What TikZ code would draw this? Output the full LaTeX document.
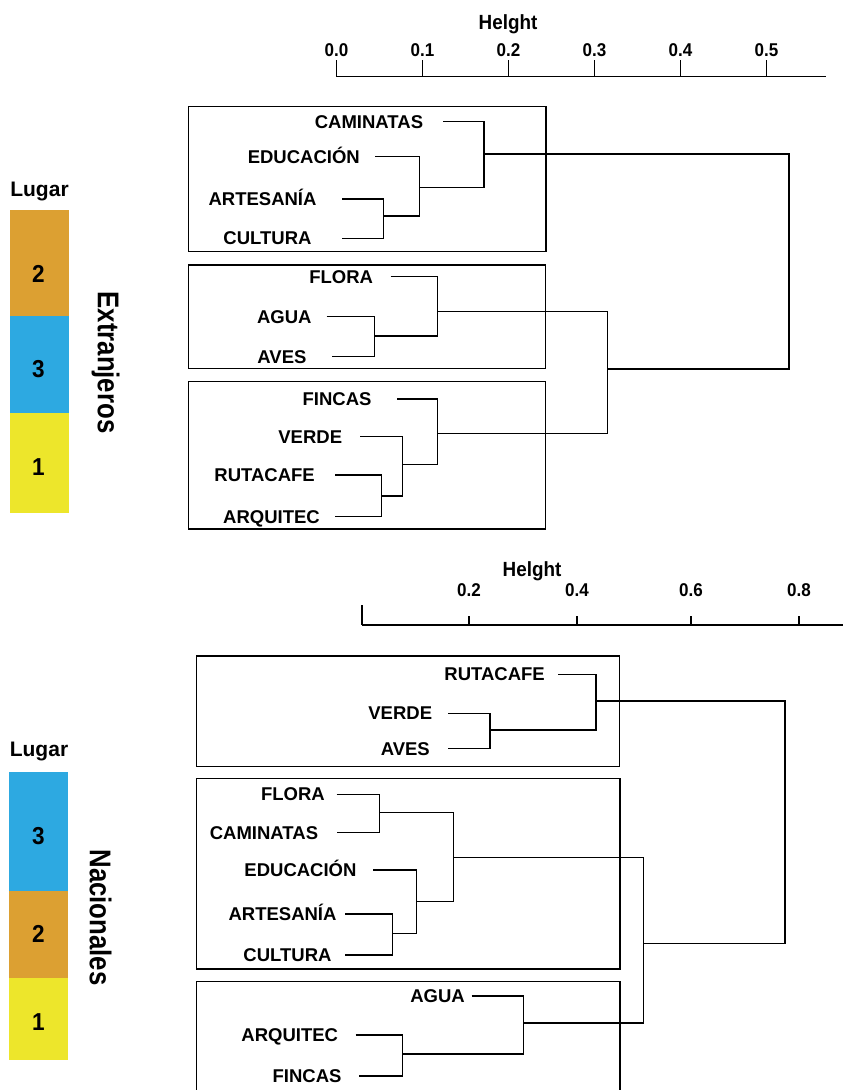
\documentclass[tikz,border=0pt]{standalone}
\usepackage{fontspec}
\setmainfont{Liberation Sans}
\newfontfamily\narrowsans[FakeStretch=0.92]{Liberation Sans}
\newfontfamily\condsans[FakeStretch=0.86]{Liberation Sans}
\definecolor{lugarorange}{RGB}{220,160,50}
\definecolor{lugarblue}{RGB}{45,169,225}
\definecolor{lugaryellow}{RGB}{237,230,43}

\begin{document}
\begin{tikzpicture}[x=1pt, y=-1pt,
    leaf/.style={anchor=east, inner sep=0pt, text height=13.2pt, text depth=0pt,
        font=\bfseries\fontsize{18.5}{18.5}\selectfont},
    ticklab/.style={inner sep=0pt, text height=13.2pt, text depth=0pt,
        font=\narrowsans\bfseries\fontsize{18.5}{18.5}\selectfont},
    axistitle/.style={inner sep=0pt, text height=14.7pt, text depth=0pt,
        font=\narrowsans\bfseries\fontsize{20.5}{20.5}\selectfont},
    lugar/.style={inner sep=0pt, text height=15pt, text depth=0pt,
        font=\bfseries\fontsize{21}{21}\selectfont},
    rank/.style={inner sep=0pt, text height=17.5pt, text depth=0pt,
        font=\narrowsans\bfseries\fontsize{24.5}{24.5}\selectfont},
    side/.style={inner sep=0pt, text height=21.5pt, text depth=0pt, rotate=-90,
        font=\condsans\bfseries\fontsize{30}{30}\selectfont},
    groupbox/.style={draw, line width=1.4pt},
    link/.style={line width=1.1pt},
    axis/.style={line width=1.2pt}
]
    \useasboundingbox (0,0) rectangle (843,1090);
    \fill[white] (0,0) rectangle (843,1090);
    \clip (0,0) rectangle (843,1090);

    % ---------- Extranjeros ----------
    \node[axistitle] (h1) at (508,22) {Helght};
    \draw[axis] (336.5,76.5) -- (826,76.5);
    \foreach \lab [count=\i from 0] in {0.0,0.1,0.2,0.3,0.4,0.5} {
        \draw[axis] ({336.5+86*\i},60) -- ({336.5+86*\i},76.5);
        \node[ticklab] (ta\i) at ({336.5+86*\i},49.5) {\lab};
    }

    \draw[groupbox] (188.3,106.7) rectangle (546,251.7);
    \draw[groupbox] (188.3,265) rectangle (545.7,368.3);
    \draw[groupbox] (188.3,381.7) rectangle (545.7,529);

    \node[leaf] (cam) at (423.3,121.7) {CAMINATAS};
    \node[leaf] (edu) at (360,156.7) {EDUCACIÓN};
    \node[leaf] (art) at (316.7,199) {ARTESANÍA};
    \node[leaf] (cul) at (311.7,238.3) {CULTURA};
    \node[leaf] (flora) at (373.3,276.7) {FLORA};
    \node[leaf] (agua) at (311.7,316.7) {AGUA};
    \node[leaf] (aves) at (306.7,356.7) {AVES};
    \node[leaf] (fincas) at (371.7,399) {FINCAS};
    \node[leaf] (verde) at (342.3,436.7) {VERDE};
    \node[leaf] (ruta) at (315,475) {RUTACAFE};
    \node[leaf] (arq) at (320,516.7) {ARQUITEC};

    \coordinate (jA) at (383.3,216);
    \coordinate (jB) at (419.3,187.7);
    \coordinate (jC) at (484,154);
    \coordinate (jD) at (374.3,336);
    \coordinate (jE) at (437.7,311.7);
    \coordinate (jF) at (381.7,496);
    \coordinate (jG) at (402.7,464.3);
    \coordinate (jH) at (437.7,433.3);
    \coordinate (jI) at (607.7,369);
    \coordinate (jJ) at (789,260);

    \draw[link] ([xshift=25.3pt]art.east) -| (jA) |- ([xshift=30.3pt]cul.east);
    \draw[link] ([xshift=15pt]edu.east) -| (jB) |- (jA);
    \draw[link] ([xshift=19.7pt]cam.east) -| (jC) |- (jB);
    \draw[link] ([xshift=15pt]agua.east) -| (jD) |- ([xshift=25pt]aves.east);
    \draw[link] ([xshift=17.4pt]flora.east) -| (jE) |- (jD);
    \draw[link] ([xshift=20pt]ruta.east) -| (jF) |- ([xshift=15pt]arq.east);
    \draw[link] ([xshift=17.7pt]verde.east) -| (jG) |- (jF);
    \draw[link] ([xshift=25.6pt]fincas.east) -| (jH) |- (jG);
    \draw[link] (jE) -| (jI) |- (jH);
    \draw[link] (jC) -| (jJ) |- (jI);

    \node[lugar] (lug1) at (39.5,189) {Lugar};
    \fill[lugarorange] (9.5,210) rectangle (68.5,315.7);
    \fill[lugarblue] (9.5,315.7) rectangle (68.5,412.7);
    \fill[lugaryellow] (9.5,412.7) rectangle (68.5,513.3);
    \node[rank] (r12) at (38.5,274) {2};
    \node[rank] (r13) at (38.5,369) {3};
    \node[rank] (r11) at (38.5,467) {1};
    \node[side] (ext) at (108.5,362.5) {Extranjeros};

    % ---------- Nacionales ----------
    \node[axistitle] (h2) at (532,569) {Helght};
    \draw[axis] (362,625) -- (843,625);
    \draw[axis] (362,605) -- (362,625);
    \foreach \x/\lab in {469/0.2,577/0.4,691/0.6,799/0.8} {
        \draw[axis] (\x,616) -- (\x,625);
        \node[ticklab] (tb\x) at (\x,590) {\lab};
    }

    \draw[groupbox] (196.7,656) rectangle (619.7,766.7);
    \draw[groupbox] (196.7,778.3) rectangle (620,969);
    \draw[groupbox] (196.7,981.7) rectangle (620,1100);

    \node[leaf] (nruta) at (545,674.3) {RUTACAFE};
    \node[leaf] (nverde) at (432.3,713.3) {VERDE};
    \node[leaf] (naves) at (430,748.7) {AVES};
    \node[leaf] (nflora) at (325,794.3) {FLORA};
    \node[leaf] (ncam) at (318.3,832.7) {CAMINATAS};
    \node[leaf] (nedu) at (356.7,870) {EDUCACIÓN};
    \node[leaf] (nart) at (336.7,914) {ARTESANÍA};
    \node[leaf] (ncul) at (331.7,955) {CULTURA};
    \node[leaf] (nagua) at (465,996) {AGUA};
    \node[leaf] (narq) at (338.3,1035) {ARQUITEC};
    \node[leaf] (nfin) at (341.7,1076) {FINCAS};

    \coordinate (kA) at (490,730);
    \coordinate (kB) at (596,701);
    \coordinate (kC) at (379.3,812.7);
    \coordinate (kD) at (392.3,933.3);
    \coordinate (kE) at (416.7,901.7);
    \coordinate (kF) at (453.3,857.7);
    \coordinate (kG) at (402.3,1054);
    \coordinate (kH) at (523.3,1023);
    \coordinate (kI) at (643.3,943.3);
    \coordinate (kJ) at (785,820);

    \draw[link] ([xshift=16pt]nverde.east) -| (kA) |- ([xshift=18.3pt]naves.east);
    \draw[link] ([xshift=13.3pt]nruta.east) -| (kB) |- (kA);
    \draw[link] ([xshift=11.7pt]nflora.east) -| (kC) |- ([xshift=18.4pt]ncam.east);
    \draw[link] ([xshift=8.3pt]nart.east) -| (kD) |- ([xshift=13.3pt]ncul.east);
    \draw[link] ([xshift=16.6pt]nedu.east) -| (kE) |- (kD);
    \draw[link] (kC) -| (kF) |- (kE);
    \draw[link] ([xshift=17.4pt]narq.east) -| (kG) |- ([xshift=17.3pt]nfin.east);
    \draw[link] ([xshift=6.7pt]nagua.east) -| (kH) |- (kG);
    \draw[link] (kF) -| (kI) |- (kH);
    \draw[link] (kB) -| (kJ) |- (kI);

    \node[lugar] (lug2) at (39,749) {Lugar};
    \fill[lugarblue] (9,771.7) rectangle (68,891);
    \fill[lugarorange] (9,891) rectangle (68,978.3);
    \fill[lugaryellow] (9,978.3) rectangle (68,1060);
    \node[rank] (r23) at (38.5,836) {3};
    \node[rank] (r22) at (38.5,934) {2};
    \node[rank] (r21) at (38.5,1022) {1};
    \node[side] (nac) at (100.5,917.5) {Nacionales};
\end{tikzpicture}
\end{document}
